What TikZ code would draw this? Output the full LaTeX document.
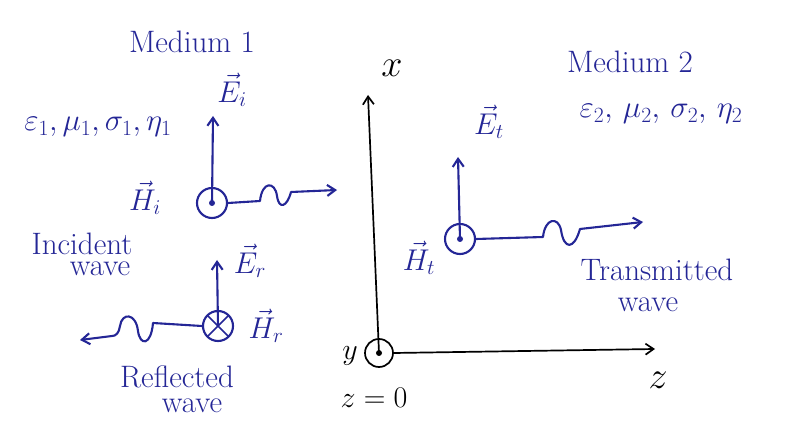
\RequirePackage{fix-cm}
\documentclass[tikz,border=0pt]{standalone}
\usetikzlibrary{arrows.meta}
\definecolor{ink}{RGB}{36,38,150}
\tikzset{
  wire/.style={draw=ink, line width=2.1pt, line cap=round, line join=round},
  tip/.style={-{Straight Barb[length=8pt,width=11pt]}},
  outof/.style={circle, draw=ink, line width=2.1pt, minimum size=30pt, inner sep=0pt,
    path picture={\fill[ink] (path picture bounding box.center) circle (3pt);}},
  into/.style={circle, draw=ink, line width=2.1pt, minimum size=30pt, inner sep=0pt,
    path picture={\draw[ink,line width=1.6pt] (path picture bounding box.north west) -- (path picture bounding box.south east) (path picture bounding box.north east) -- (path picture bounding box.south west);}},
  lbl/.style={text=ink, font=\fontsize{31}{34}\selectfont, inner sep=0pt},
  vlbl/.style={text=ink, font=\fontsize{30}{32}\selectfont, inner sep=0pt},
  axlbl/.style={text=black, font=\fontsize{30}{32}\selectfont, inner sep=0pt}
}
\begin{document}
\begin{tikzpicture}[x=1pt,y=-1pt]
\useasboundingbox[fill=white] (0,0) rectangle (795,427);

% axes
\node[circle,draw=black,line width=1.7pt,minimum size=28pt,inner sep=0pt,
  path picture={\fill (path picture bounding box.center) circle (3pt);}](orig) at (379,353) {};
\coordinate (xtip) at (368,95);
\coordinate (ztip) at (655,349);
\draw[line width=1.7pt,tip] (orig.center) -- (xtip);
\draw[line width=1.7pt,tip] (orig.east) -- (ztip);
\node[axlbl,font=\fontsize{38}{40}\selectfont](xl) at (392,68) {$x$};
\node[axlbl,font=\fontsize{38}{40}\selectfont](zl) at (658,380) {$z$};
\node[axlbl](yl) at (350,356) {$y$};
\node[axlbl](z0) at (374,398) {$z=0$};

% media
\node[lbl](m1) at (192,42) {Medium 1};
\node[lbl](p1) at (98,127) {$\varepsilon_1, \mu_1, \sigma_1, \eta_1$};
\node[lbl](m2) at (630,62) {Medium 2};
\node[lbl](p2) at (661,114) {$\varepsilon_2,\, \mu_2,\, \sigma_2,\, \eta_2$};

% incident wave
\node[outof](inc) at (212,203) {};
\coordinate (eitip) at (213,116);
\coordinate (iw1) at (260,201);
\coordinate (iw2) at (291,192);
\coordinate (itip) at (337,190);
\draw[wire,tip] (inc.center) -- (eitip);
\draw[wire,tip] (inc.east) -- (iw1) .. controls (262,181) and (275,181) .. (277,196)
  .. controls (279,210) and (287,207) .. (iw2) -- (itip);
\node[vlbl](ei) at (232,90) {$\vec{E}_i$};
\node[vlbl](hi) at (145,198) {$\vec{H}_i$};
\node[lbl](il) at (82,244) {Incident};
\node[lbl](il2) at (100,269) {wave};

% reflected wave
\node[into](ref) at (218,326) {};
\coordinate (ertip) at (217,260);
\coordinate (rw1) at (153,323);
\coordinate (rw2) at (112,336);
\coordinate (rtip) at (80,340);
\draw[wire,tip] (ref.center) -- (ertip);
\draw[wire,tip] (ref.west) -- (rw1) .. controls (151,346) and (140,346) .. (138,331)
  .. controls (136,313) and (122,312) .. (120,326) .. controls (119,333) and (116,336) .. (rw2) -- (rtip);
\node[vlbl](er) at (250,261) {$\vec{E}_r$};
\node[vlbl](hr) at (266,326) {$\vec{H}_r$};
\node[lbl](rl) at (177,377) {Reflected};
\node[lbl](rl2) at (192,406) {wave};

% transmitted wave
\node[outof](tra) at (460,239) {};
\coordinate (ettip) at (458,157);
\coordinate (tw1) at (543,237);
\coordinate (tw2) at (580,229);
\coordinate (ttip) at (643,222);
\draw[wire,tip] (tra.center) -- (ettip);
\draw[wire,tip] (tra.east) -- (tw1) .. controls (545,218) and (558,216) .. (561,230)
  .. controls (564,250) and (574,250) .. (tw2) -- (ttip);
\node[vlbl](et) at (489,122) {$\vec{E}_t$};
\node[vlbl](ht) at (419,258) {$\vec{H}_t$};
\node[lbl](tl) at (657,270) {Transmitted};
\node[lbl](tl2) at (648,305) {wave};
\end{tikzpicture}
\end{document}
